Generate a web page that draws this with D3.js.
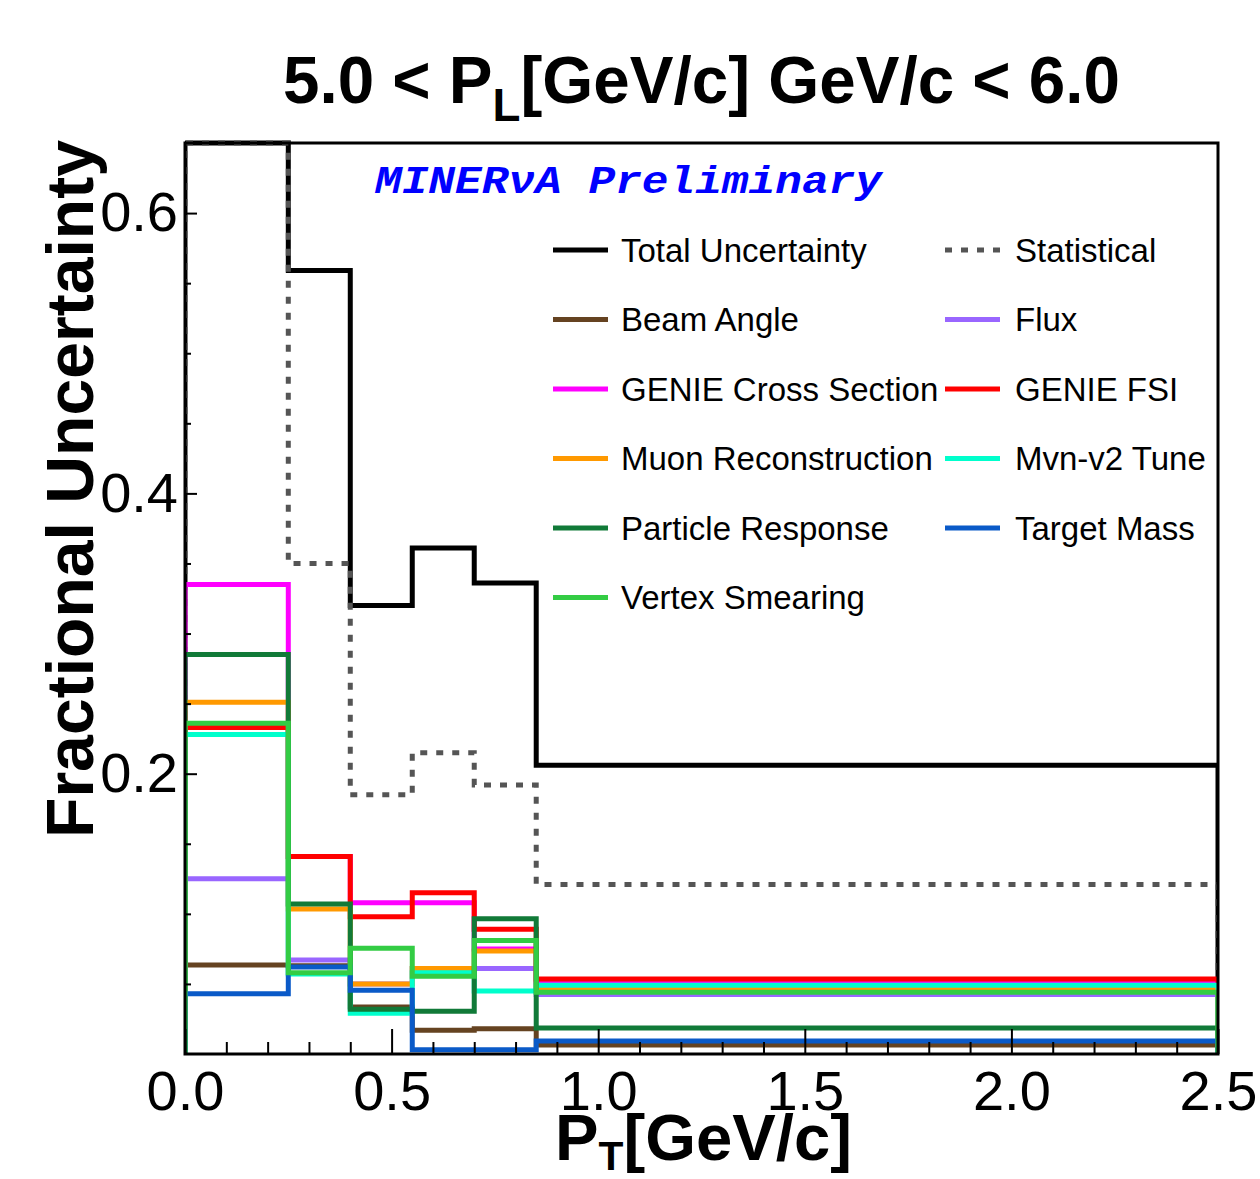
<!DOCTYPE html>
<html>
<head>
<meta charset="utf-8">
<script src="https://cdn.jsdelivr.net/npm/d3@7"></script>
<style>
  body { margin: 0; background: #fff; }
  text { font-family: "Liberation Sans", Arial, sans-serif; }
</style>
</head>
<body>
<div id="chart"></div>
<script>
// bin edges in PT [GeV/c]
const binEdges = [0, 0.25, 0.4, 0.55, 0.7, 0.85, 2.5];

// fractional uncertainties per bin
const totalUnc     = [0.65, 0.559, 0.320, 0.361, 0.336, 0.206];
const statUnc      = [0.65, 0.350, 0.185, 0.215, 0.192, 0.121];
const beamAngle    = [0.0635, 0.063, 0.0335, 0.017, 0.018, 0.0064];
const flux         = [0.125, 0.067, 0.050, 0.061, 0.061, 0.0425];
const genieXsec    = [0.335, 0.141, 0.108, 0.108, 0.075, 0.052];
const genieFsi     = [0.233, 0.141, 0.098, 0.115, 0.089, 0.0535];
const muonReco     = [0.251, 0.1035, 0.050, 0.061, 0.0735, 0.0465];
const mvnTune      = [0.228, 0.057, 0.029, 0.058, 0.045, 0.049];
const particleResp = [0.285, 0.107, 0.032, 0.0305, 0.0965, 0.0185];
const targetMass   = [0.043, 0.062, 0.0455, 0.003, 0.003, 0.0093];
const vertexSmear  = [0.236, 0.058, 0.0755, 0.0555, 0.081, 0.044];

const xMajorTicks = [0, 0.5, 1.0, 1.5, 2.0, 2.5];
const yMajorTicks = [0.2, 0.4, 0.6];

// draw order = legend order
const series = [
  {name: "Total Uncertainty",     values: totalUnc,     color: "#000000"},
  {name: "Statistical",           values: statUnc,      color: "#555555", dashed: true},
  {name: "Beam Angle",            values: beamAngle,    color: "#654321"},
  {name: "Flux",                  values: flux,         color: "#9966ff"},
  {name: "GENIE Cross Section",   values: genieXsec,    color: "#ff00ff"},
  {name: "GENIE FSI",             values: genieFsi,     color: "#ff0000"},
  {name: "Muon Reconstruction",   values: muonReco,     color: "#ff9900"},
  {name: "Mvn-v2 Tune",           values: mvnTune,      color: "#00ffcc"},
  {name: "Particle Response",     values: particleResp, color: "#117a38"},
  {name: "Target Mass",           values: targetMass,   color: "#0a5ac8"},
  {name: "Vertex Smearing",       values: vertexSmear,  color: "#33cc44"}
];

let width = 1260, height = 1179;
let frame = {left: 185, right: 1218, top: 143, bottom: 1054};

let svg = d3.select("#chart")
  .append("svg")
    .attr("width", width)
    .attr("height", height);

let x = d3.scaleLinear().domain([0, 2.5]).range([frame.left, frame.right]);
let y = d3.scaleLinear().domain([0, 0.65]).range([frame.bottom, frame.top]);

svg.append("clipPath").attr("id", "plotclip")
  .append("rect")
    .attr("x", frame.left).attr("y", frame.top - 3)
    .attr("width", frame.right - frame.left).attr("height", frame.bottom - frame.top + 3);

// histogram outline: up from zero at first edge, steps, down to zero at last edge
function stepPoints(values) {
  let pts = [[x(binEdges[0]), y(0)]];
  values.forEach(function(v, i) {
    pts.push([x(binEdges[i]), y(v)]);
    pts.push([x(binEdges[i + 1]), y(v)]);
  });
  pts.push([x(binEdges[binEdges.length - 1]), y(0)]);
  return pts;
}

let line = d3.line();

svg.append("g")
  .attr("clip-path", "url(#plotclip)")
  .selectAll("path")
  .data(series)
  .enter()
  .append("path")
    .attr("d", function(d) { return line(stepPoints(d.values)); })
    .attr("fill", "none")
    .attr("stroke", function(d) { return d.color; })
    .attr("stroke-width", 5)
    .attr("stroke-dasharray", function(d) { return d.dashed ? "7,9" : null; });

// axes (ticks inside the frame)
let xMinor = d3.range(0, 2.501, 0.1).filter(function(t) { return Math.abs(t * 2 - Math.round(t * 2)) > 1e-6; });
svg.append("g")
  .attr("transform", "translate(0," + frame.bottom + ")")
  .call(d3.axisBottom(x).tickValues(xMinor).tickSize(-12).tickFormat(""))
  .call(function(g) { g.select(".domain").remove(); })
  .selectAll("line").attr("stroke-width", 2);

let xAxis = svg.append("g")
  .attr("transform", "translate(0," + frame.bottom + ")")
  .call(d3.axisBottom(x).tickValues(xMajorTicks).tickSize(-25).tickPadding(16).tickFormat(d3.format(".1f")));
xAxis.select(".domain").remove();
xAxis.selectAll("line").attr("stroke-width", 2);
xAxis.selectAll("text").style("font-size", "56px").attr("fill", "#000");

let yMinor = d3.range(0.05, 0.65, 0.05).filter(function(t) { return Math.abs(t * 5 - Math.round(t * 5)) > 1e-6; });
svg.append("g")
  .attr("transform", "translate(" + frame.left + ",0)")
  .call(d3.axisLeft(y).tickValues(yMinor).tickSize(-6).tickFormat(""))
  .call(function(g) { g.select(".domain").remove(); })
  .selectAll("line").attr("stroke-width", 2);

let yAxis = svg.append("g")
  .attr("transform", "translate(" + frame.left + ",0)")
  .call(d3.axisLeft(y).tickValues(yMajorTicks).tickSize(-12).tickPadding(7).tickFormat(d3.format(".1f")));
yAxis.select(".domain").remove();
yAxis.selectAll("line").attr("stroke-width", 2);
yAxis.selectAll("text").style("font-size", "56px").attr("fill", "#000");

// frame
svg.append("rect")
  .attr("x", frame.left).attr("y", frame.top)
  .attr("width", frame.right - frame.left).attr("height", frame.bottom - frame.top)
  .attr("fill", "none").attr("stroke", "#000").attr("stroke-width", 3);

// title
let title = svg.append("text")
  .attr("x", 283).attr("y", 103)
  .style("font-size", "66px").style("font-weight", "bold");
title.append("tspan").text("5.0 < P");
title.append("tspan").attr("dy", 18).style("font-size", "46px").text("L");
title.append("tspan").attr("dy", -18).text("[GeV/c] GeV/c < 6.0");
title.attr("textLength", 837).attr("lengthAdjust", "spacingAndGlyphs");

// y axis label
svg.append("text")
  .attr("transform", "translate(93,838) rotate(-90)")
  .style("font-size", "66px").style("font-weight", "bold")
  .attr("textLength", 698).attr("lengthAdjust", "spacingAndGlyphs")
  .text("Fractional Uncertainty");

// x axis label
let xlab = svg.append("text")
  .attr("x", 555).attr("y", 1160)
  .style("font-size", "64px").style("font-weight", "bold");
xlab.append("tspan").text("P");
xlab.append("tspan").attr("dy", 10).style("font-size", "40px").text("T");
xlab.append("tspan").attr("dy", -10).text("[GeV/c]");
xlab.attr("textLength", 297).attr("lengthAdjust", "spacingAndGlyphs");

// MINERvA label
svg.append("text")
  .attr("x", 375).attr("y", 193)
  .style("font-family", "'Liberation Mono', 'DejaVu Sans Mono', monospace")
  .style("font-size", "38px").style("font-weight", "bold").style("font-style", "italic")
  .attr("fill", "#0000ff")
  .attr("textLength", 507).attr("lengthAdjust", "spacingAndGlyphs")
  .text("MINERνA Preliminary");

// legend, two columns
let legendCols = [553, 945], legendRow0 = 250, legendRowStep = 69.5;
let legend = svg.append("g")
  .selectAll("g")
  .data(series)
  .enter()
  .append("g")
    .attr("transform", function(d, i) {
      return "translate(" + legendCols[i % 2] + "," + (legendRow0 + Math.floor(i / 2) * legendRowStep) + ")";
    });

legend.append("line")
  .attr("x1", 0).attr("x2", 55)
  .attr("stroke", function(d) { return d.color; })
  .attr("stroke-width", 5)
  .attr("stroke-dasharray", function(d) { return d.dashed ? "7,9" : null; });

legend.append("text")
  .attr("x", function(d, i) { return i % 2 ? 70 : 68; })
  .attr("dy", "0.35em")
  .style("font-size", "33px")
  .text(function(d) { return d.name; });
</script>
</body>
</html>
